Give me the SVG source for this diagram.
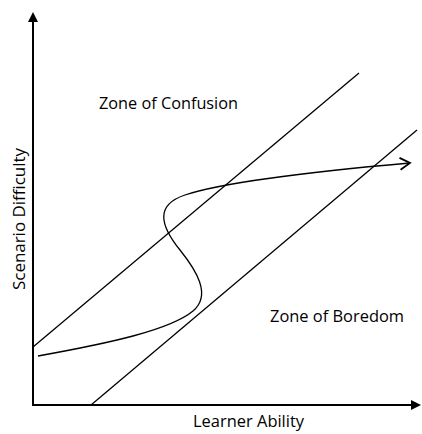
<svg xmlns="http://www.w3.org/2000/svg" width="422" height="434" viewBox="0 0 422 434">
<style>
.t{font-family:"Open Sans","Liberation Sans",sans-serif;font-size:16px;fill:#000}
.ln{stroke:#000;stroke-width:1.3;fill:none}
.ax{stroke:#000;stroke-width:2;fill:none}
</style>
<defs>
<marker id="ah" markerWidth="10" markerHeight="10" refX="8" refY="5" orient="auto" markerUnits="userSpaceOnUse">
<path d="M0,0 L10,5 L0,10 Z" fill="#000"/>
</marker>
<marker id="open" markerWidth="14" markerHeight="14" refX="12" refY="7" orient="auto" markerUnits="userSpaceOnUse">
<path d="M2,1 L12,7 L2,13" fill="none" stroke="#000" stroke-width="1.8"/>
</marker>
</defs>
<rect width="422" height="434" fill="#fff"/>
<g id="axes">
<line class="ax" x1="33" y1="405" x2="33" y2="14" marker-end="url(#ah)"/>
<line class="ax" x1="32" y1="405" x2="419" y2="405" marker-end="url(#ah)"/>
</g>
<g id="connectors">
<line class="ln" x1="33" y1="347" x2="359" y2="73"/>
<line class="ln" x1="91" y1="405" x2="417" y2="130"/>
<path class="ln" d="M38,356 C110,343 170,330 193,311 C212,295 196,270 180,250 C160,225 155,205 185,195 C230,180 330,170 410,163" marker-end="url(#open)"/>
</g>
<g id="labels">
<text class="t" x="99" y="109" textLength="139" lengthAdjust="spacingAndGlyphs">Zone of Confusion</text>
<text class="t" x="270" y="322" textLength="134" lengthAdjust="spacingAndGlyphs">Zone of Boredom</text>
<text class="t" x="193" y="427" textLength="111" lengthAdjust="spacingAndGlyphs">Learner Ability</text>
<text class="t" transform="translate(25,290) rotate(-90)" textLength="142" lengthAdjust="spacingAndGlyphs">Scenario Difficulty</text>
</g>
</svg>
